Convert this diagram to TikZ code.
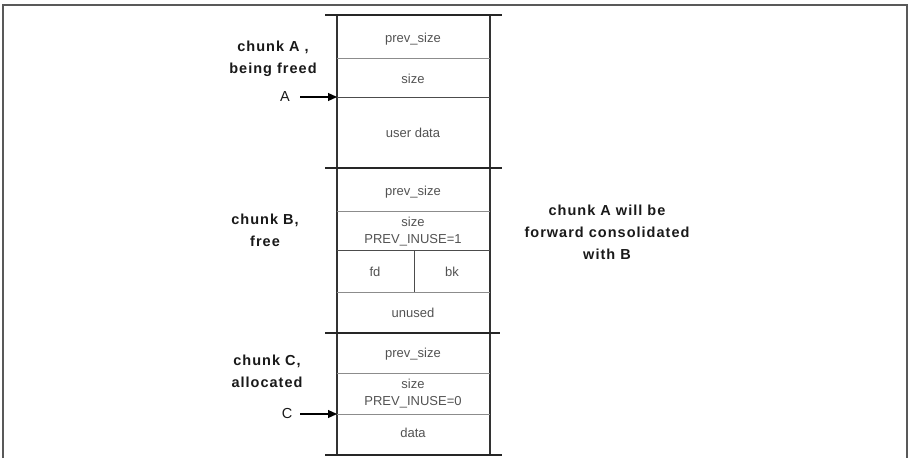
\documentclass[tikz,border=0pt]{standalone}
\usepackage{fontspec}
\setmainfont{Liberation Sans}
\newfontfamily\labfont[LetterSpace=7]{Liberation Sans}
\usetikzlibrary{arrows.meta}
\begin{document}
\begin{tikzpicture}[x=1pt,y=-1pt,
  lab/.style={font=\labfont\fontsize{14.5}{22}\selectfont\bfseries, align=center, text=black!90, inner sep=0pt, anchor=base},
  fld/.style={font=\fontsize{13}{17}\selectfont, text=black!68, inner sep=0pt, align=center, anchor=base},
  side/.style={draw=black!80, line width=1.2pt},
  bound/.style={draw=black!85, line width=1.8pt},
  inner/.style={draw=black!45, line width=1pt},
  innerd/.style={draw=black!70, line width=1pt},
  ptr/.style={draw=black, line width=1.2pt, -{Triangle[length=9pt,width=8pt]}}
]
\useasboundingbox (0,0) rectangle (910,458);
% frame
\draw[draw=black!65, line width=2pt] (3,458) -- (3,5) -- (907,5) -- (907,458);
% column sides
\draw[side] (337,15) -- (337,456);
\draw[side] (490,15) -- (490,456);
% chunk boundaries
\draw[bound] (325,15) -- (502,15);
\draw[bound] (325,168) -- (502,168);
\draw[bound] (325,333) -- (500,333);
\draw[bound] (325,455) -- (502,455);
% internal lines
\draw[inner] (337,58) -- (490,58);
\draw[innerd] (337,97) -- (490,97);
\draw[inner] (337,211) -- (490,211);
\draw[innerd] (337,250) -- (490,250);
\draw[inner] (337,292) -- (490,292);
\draw[innerd] (414,250) -- (414,292);
\draw[inner] (337,373) -- (490,373);
\draw[inner] (337,414) -- (490,414);
% field texts (base = baseline of last line)
\node[fld] (a1) at (413,42) {prev\_size};
\node[fld] (a2) at (413,83) {size};
\node[fld] (a3) at (413,137) {user data};
\node[fld] (b1) at (413,195) {prev\_size};
\node[fld] (b2) at (413,243) {size\\PREV\_INUSE=1};
\node[fld] (b3) at (375,276) {fd};
\node[fld] (b4) at (452,276) {bk};
\node[fld] (b5) at (413,317) {unused};
\node[fld] (c1) at (413,357) {prev\_size};
\node[fld] (c2) at (413,405) {size\\PREV\_INUSE=0};
\node[fld] (c3) at (413,437) {data};
% labels
\node[lab] (la) at (273,73) {chunk A ,\\being freed};
\node[lab] (lb) at (265,246) {chunk B,\\free};
\node[lab] (lc) at (267,387) {chunk C,\\allocated};
\node[lab] (lr) at (607,259) {chunk A will be\\forward consolidated\\with B};
% pointers
\node[lab, font=\fontsize{14.5}{22}\selectfont] (pa) at (285,101) {A};
\coordinate (pa2) at (337,97);
\draw[ptr] (300,97) -- (pa2);
\node[lab, font=\fontsize{14.5}{22}\selectfont] (pc) at (287,418) {C};
\coordinate (pc2) at (337,414);
\draw[ptr] (300,414) -- (pc2);
\end{tikzpicture}
\end{document}
